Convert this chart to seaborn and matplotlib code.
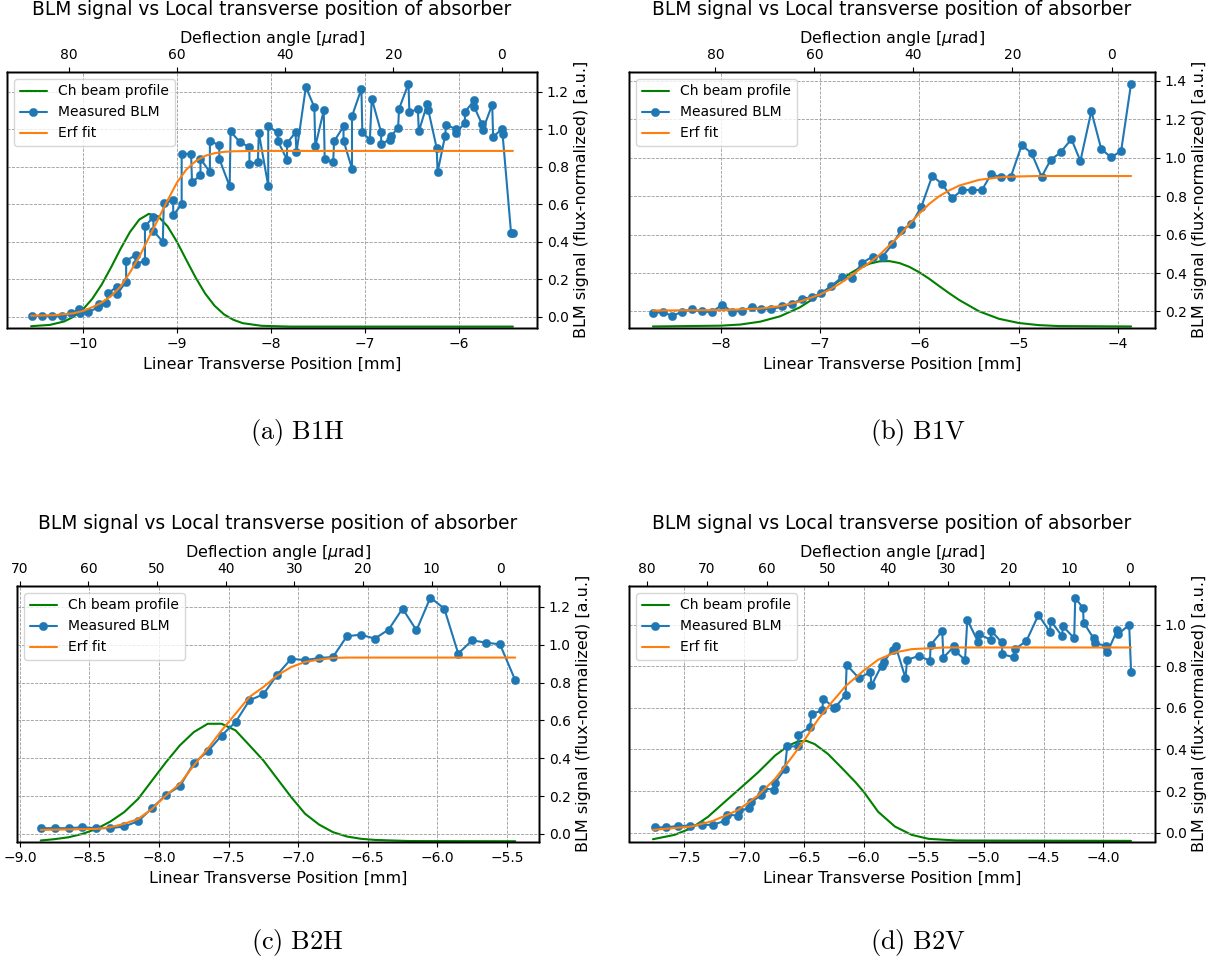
import matplotlib
matplotlib.use("Agg")
import matplotlib.pyplot as plt
from matplotlib.ticker import MultipleLocator
import seaborn as sns

# ---------------- B1H ----------------
b1h_pos = [-10.54, -10.43, -10.33, -10.22, -10.13, -10.04, -10.03, -9.94, -9.84, -9.83,
           -9.75, -9.73, -9.64, -9.64, -9.54, -9.54, -9.44, -9.44, -9.34, -9.34,
           -9.25, -9.25, -9.15, -9.14, -9.04, -9.04, -8.95, -8.95, -8.85, -8.84,
           -8.75, -8.75, -8.65, -8.65, -8.55, -8.55, -8.44, -8.43, -8.33, -8.23,
           -8.23, -8.14, -8.13, -8.03, -8.03, -7.93, -7.93, -7.83, -7.83, -7.74,
           -7.73, -7.63, -7.54, -7.53, -7.44, -7.43, -7.34, -7.33, -7.23, -7.23,
           -7.14, -7.14, -7.04, -7.03, -6.95, -6.93, -6.83, -6.83, -6.74, -6.73,
           -6.65, -6.64, -6.54, -6.53, -6.44, -6.43, -6.34, -6.33, -6.24, -6.23,
           -6.15, -6.14, -6.04, -6.04, -5.94, -5.94, -5.84, -5.84, -5.76, -5.75,
           -5.65, -5.64, -5.55, -5.54, -5.45, -5.43]
b1h_blm = [0.004, 0.004, 0.004, 0.004, 0.018, 0.039, 0.020, 0.023, 0.050, 0.067,
           0.074, 0.124, 0.160, 0.119, 0.186, 0.298, 0.328, 0.280, 0.298, 0.482,
           0.532, 0.457, 0.399, 0.606, 0.620, 0.541, 0.599, 0.868, 0.868, 0.718,
           0.753, 0.842, 0.771, 0.939, 0.913, 0.842, 0.695, 0.988, 0.930, 0.905,
           0.816, 0.823, 0.980, 0.698, 1.015, 0.983, 0.939, 0.837, 0.926, 0.983,
           0.876, 1.225, 1.117, 0.908, 1.100, 0.841, 0.823, 0.935, 1.015, 0.939,
           0.789, 1.069, 1.215, 0.983, 0.944, 1.163, 0.983, 0.921, 0.944, 0.962,
           1.006, 1.108, 1.243, 1.090, 1.108, 0.988, 1.136, 1.104, 0.899, 0.771,
           0.966, 1.024, 1.001, 0.978, 1.033, 1.092, 1.154, 1.118, 1.028, 0.996,
           1.131, 0.957, 1.001, 0.975, 0.448, 0.448]
b1h_fit_pos = [-10.55, -10.3, -10.1, -10.0, -9.9, -9.8, -9.7, -9.6, -9.5, -9.4, -9.3,
               -9.2, -9.1, -9.0, -8.9, -8.8, -8.7, -8.6, -8.5, -8.4, -8.2, -8.0, -5.43]
b1h_fit = [0.005, 0.008, 0.018, 0.030, 0.050, 0.075, 0.110, 0.160, 0.235, 0.320, 0.420,
           0.520, 0.620, 0.715, 0.785, 0.830, 0.858, 0.872, 0.879, 0.882, 0.884, 0.884, 0.884]
b1h_prof_pos = [-10.55, -10.35, -10.2, -10.1, -10.0, -9.9, -9.8, -9.7, -9.6, -9.5, -9.4,
                -9.3, -9.2, -9.1, -9.0, -8.9, -8.8, -8.7, -8.6, -8.5, -8.4, -8.3, -8.1,
                -7.8, -5.43]
b1h_prof = [-0.051, -0.044, -0.026, -0.001, 0.038, 0.095, 0.171, 0.263, 0.361, 0.451, 0.518,
            0.548, 0.535, 0.482, 0.399, 0.302, 0.207, 0.123, 0.058, 0.012, -0.017, -0.035,
            -0.049, -0.053, -0.053]
b1h_angle = [-5.55, 17.39]   # angle = (p0 - pos) * k

# ---------------- B1V ----------------
b1v_pos = [-8.68, -8.58, -8.49, -8.39, -8.29, -8.19, -8.09, -7.98, -7.88, -7.78,
           -7.68, -7.59, -7.49, -7.38, -7.28, -7.18, -7.08, -6.99, -6.89, -6.78,
           -6.68, -6.58, -6.47, -6.37, -6.27, -6.18, -6.08, -5.98, -5.87, -5.77,
           -5.67, -5.57, -5.47, -5.37, -5.28, -5.18, -5.08, -4.97, -4.87, -4.77,
           -4.68, -4.58, -4.47, -4.38, -4.27, -4.17, -4.07, -3.97, -3.87]
b1v_blm = [0.191, 0.197, 0.177, 0.197, 0.212, 0.200, 0.197, 0.235, 0.197, 0.205,
           0.223, 0.212, 0.212, 0.226, 0.240, 0.266, 0.274, 0.295, 0.330, 0.378,
           0.373, 0.451, 0.486, 0.486, 0.550, 0.624, 0.655, 0.745, 0.906, 0.863,
           0.789, 0.832, 0.832, 0.832, 0.913, 0.901, 0.901, 1.066, 1.023, 0.901,
           0.988, 1.028, 1.097, 0.983, 1.242, 1.045, 1.002, 1.036, 1.386]
b1v_fit_pos = [-8.68, -8.0, -7.6, -7.4, -7.2, -7.0, -6.9, -6.8, -6.7, -6.6, -6.5, -6.4,
               -6.3, -6.2, -6.1, -6.0, -5.9, -5.8, -5.7, -5.6, -5.4, -5.2, -5.0, -4.8, -3.87]
b1v_fit = [0.205, 0.207, 0.215, 0.228, 0.252, 0.288, 0.314, 0.345, 0.380, 0.420, 0.455, 0.495,
           0.545, 0.595, 0.655, 0.710, 0.760, 0.800, 0.830, 0.855, 0.885, 0.898, 0.903, 0.905, 0.905]
b1v_prof_pos = [-8.68, -8.0, -7.8, -7.6, -7.4, -7.2, -7.0, -6.9, -6.8, -6.7, -6.6, -6.5,
                -6.4, -6.3, -6.2, -6.1, -6.0, -5.9, -5.8, -5.7, -5.6, -5.4, -5.2, -5.0,
                -4.8, -4.6, -3.87]
b1v_prof = [0.122, 0.126, 0.132, 0.147, 0.175, 0.222, 0.288, 0.325, 0.362, 0.397, 0.427, 0.449,
            0.461, 0.462, 0.452, 0.432, 0.404, 0.370, 0.332, 0.295, 0.260, 0.201, 0.162, 0.140,
            0.129, 0.124, 0.122]
b1v_angle = [-4.067, 20.08]

# ---------------- B2H ----------------
b2h_pos = [-8.85, -8.75, -8.65, -8.55, -8.45, -8.35, -8.25, -8.15, -8.05, -7.95,
           -7.85, -7.75, -7.65, -7.55, -7.45, -7.35, -7.25, -7.15, -7.05, -6.95,
           -6.85, -6.75, -6.65, -6.55, -6.45, -6.35, -6.25, -6.15, -6.05, -5.95,
           -5.85, -5.75, -5.65, -5.55, -5.44]
b2h_blm = [0.030, 0.030, 0.030, 0.035, 0.030, 0.030, 0.039, 0.067, 0.136, 0.206,
           0.252, 0.374, 0.436, 0.520, 0.591, 0.706, 0.738, 0.842, 0.926, 0.918,
           0.930, 0.935, 1.045, 1.053, 1.032, 1.080, 1.191, 1.076, 1.249, 1.191,
           0.953, 1.023, 1.011, 1.002, 0.812]
b2h_fit_pos = [-8.85, -8.45, -8.35, -8.25, -8.15, -8.05, -7.95, -7.85, -7.75, -7.65, -7.55,
               -7.45, -7.35, -7.25, -7.15, -7.05, -6.95, -6.85, -6.75, -6.65, -5.44]
b2h_fit = [0.021, 0.026, 0.035, 0.053, 0.079, 0.132, 0.203, 0.265, 0.362, 0.450, 0.547,
           0.635, 0.724, 0.776, 0.838, 0.882, 0.909, 0.921, 0.930, 0.932, 0.932]
b2h_prof_pos = [-8.85, -8.75, -8.65, -8.55, -8.45, -8.35, -8.25, -8.15, -8.05, -7.95, -7.85,
                -7.75, -7.65, -7.55, -7.45, -7.35, -7.25, -7.15, -7.05, -6.95, -6.85, -6.75,
                -6.65, -6.55, -6.45, -6.2, -5.44]
b2h_prof = [-0.035, -0.028, -0.018, 0.000, 0.026, 0.065, 0.115, 0.185, 0.282, 0.379, 0.468,
            0.538, 0.582, 0.582, 0.547, 0.468, 0.388, 0.291, 0.194, 0.106, 0.049, 0.009,
            -0.014, -0.026, -0.032, -0.038, -0.039]
b2h_angle = [-5.547, 20.27]

# ---------------- B2V ----------------
b2v_pos = [-7.745, -7.648, -7.55, -7.447, -7.35, -7.258, -7.16, -7.141, -7.049, -7.04,
           -6.957, -6.943, -6.859, -6.84, -6.75, -6.742, -6.659, -6.639, -6.547, -6.547,
           -6.45, -6.436, -6.347, -6.338, -6.247, -6.235, -6.152, -6.143, -6.042, -5.944,
           -5.936, -5.852, -5.833, -5.757, -5.735, -5.652, -5.638, -5.54, -5.448, -5.442,
           -5.345, -5.336, -5.247, -5.239, -5.155, -5.136, -5.047, -5.038, -4.941, -4.935,
           -4.849, -4.843, -4.745, -4.737, -4.642, -4.542, -4.447, -4.439, -4.347, -4.336,
           -4.244, -4.235, -4.17, -4.165, -4.082, -4.072, -3.98, -3.968, -3.885, -3.877,
           -3.785, -3.769]
b2v_blm = [0.025, 0.025, 0.032, 0.033, 0.037, 0.037, 0.057, 0.087, 0.081, 0.107,
           0.116, 0.145, 0.180, 0.212, 0.207, 0.240, 0.304, 0.415, 0.415, 0.472,
           0.506, 0.571, 0.588, 0.644, 0.601, 0.606, 0.662, 0.808, 0.744, 0.772,
           0.708, 0.804, 0.823, 0.880, 0.899, 0.744, 0.831, 0.851, 0.827, 0.903,
           0.971, 0.842, 0.896, 0.875, 0.831, 1.024, 0.919, 0.955, 0.928, 0.971,
           0.915, 0.859, 0.843, 0.883, 0.923, 1.048, 0.966, 1.019, 0.947, 0.992,
           0.936, 1.131, 1.080, 1.011, 0.935, 0.911, 0.900, 0.867, 0.974, 0.955,
           1.000, 0.775]
b2v_fit_pos = [-7.76, -7.44, -7.26, -7.05, -6.88, -6.74, -6.6, -6.49, -6.38, -6.27, -6.15,
               -6.0, -5.88, -5.74, -5.6, -5.32, -3.77]
b2v_fit = [0.013, 0.029, 0.056, 0.108, 0.180, 0.259, 0.363, 0.450, 0.546, 0.625, 0.706,
           0.780, 0.832, 0.867, 0.883, 0.891, 0.891]
b2v_prof_pos = [-7.76, -7.58, -7.44, -7.3, -7.16, -7.02, -6.88, -6.74, -6.63, -6.55, -6.48,
                -6.41, -6.3, -6.19, -6.07, -6.0, -5.88, -5.74, -5.6, -5.46, -5.23, -3.77]
b2v_prof = [-0.032, -0.011, 0.021, 0.076, 0.148, 0.219, 0.291, 0.371, 0.418, 0.439, 0.442,
            0.426, 0.379, 0.315, 0.243, 0.196, 0.100, 0.029, -0.011, -0.030, -0.038, -0.040]
b2v_angle = [-3.785, 19.86]

TITLE = "BLM signal vs Local transverse position of absorber"
GREEN, BLUE, ORANGE = "#008000", "#1f77b4", "#ff7f0e"

sns.set_theme(style="ticks", rc={
    "font.size": 11.5, "axes.labelsize": 11.5, "axes.titlesize": 13.4,
    "xtick.labelsize": 10, "ytick.labelsize": 10, "legend.fontsize": 10,
    "axes.edgecolor": "black", "axes.labelcolor": "black", "text.color": "black",
    "xtick.color": "black", "ytick.color": "black", "axes.linewidth": 1.0,
    "xtick.major.size": 3.5, "ytick.major.size": 3.5,
    "xtick.major.width": 0.8, "ytick.major.width": 0.8,
    "xtick.major.pad": 3.5, "ytick.major.pad": 3.5,
})
plt.rcParams["font.family"] = ["DejaVu Sans"]

W, H = 1227, 966
fig = plt.figure(figsize=(W / 100, H / 100), dpi=100)

panels = [
    (b1h_pos, b1h_blm, b1h_fit_pos, b1h_fit, b1h_prof_pos, b1h_prof, b1h_angle, 20,
     (7, 537, 72, 327.5), "(a) B1H", (297, 433)),
    (b1v_pos, b1v_blm, b1v_fit_pos, b1v_fit, b1v_prof_pos, b1v_prof, b1v_angle, 20,
     (629, 1155, 72, 327.5), "(b) B1V", (918, 433)),
    (b2h_pos, b2h_blm, b2h_fit_pos, b2h_fit, b2h_prof_pos, b2h_prof, b2h_angle, 10,
     (17, 539, 586, 841.5), "(c) B2H", (297, 943)),
    (b2v_pos, b2v_blm, b2v_fit_pos, b2v_fit, b2v_prof_pos, b2v_prof, b2v_angle, 10,
     (629, 1155, 586, 841.5), "(d) B2V", (918, 943)),
]

for (pos, blm, fpos, fit, ppos, prof, angle, step, box, caption, cxy) in panels:
    l, r, t, b = box
    ax = fig.add_axes([l / W, 1 - b / H, (r - l) / W, (b - t) / H])
    ax2 = ax.twinx()

    # beam profile on the primary (unlabelled) axis
    sns.lineplot(x=ppos, y=prof, ax=ax, color=GREEN, linewidth=1.5, sort=False,
                 estimator=None, errorbar=None, legend=False, label="Ch beam profile")
    # BLM signal and fit on the right axis
    sns.lineplot(x=pos, y=blm, ax=ax2, color=BLUE, linewidth=1.5, marker="o",
                 markersize=6, markeredgecolor=BLUE, markeredgewidth=0.3, sort=False,
                 estimator=None, errorbar=None, legend=False, label="Measured BLM")
    sns.lineplot(x=fpos, y=fit, ax=ax2, color=ORANGE, linewidth=1.5, sort=False,
                 estimator=None, errorbar=None, legend=False, label="Erf fit")

    ax.set_ylim(ax2.get_ylim())
    ax.set_yticks([])
    ax.set_ylabel("")
    ax.set_xlabel("Linear Transverse Position [mm]")
    ax2.set_ylabel("BLM signal (flux-normalized) [a.u.]")
    ax.grid(True, axis="x", linestyle="--", linewidth=0.6, color="#9a9a9a")
    ax2.grid(True, axis="y", linestyle="--", linewidth=0.6, color="#9a9a9a")

    # deflection angle axis on top
    ax3 = ax.twiny()
    x0, x1 = ax.get_xlim()
    p0, k = angle
    ax3.set_xlim((p0 - x0) * k, (p0 - x1) * k)
    ax3.xaxis.set_major_locator(MultipleLocator(step))
    ax3.set_xlabel("Deflection angle [$\\mu$rad]")
    ax3.grid(False)

    ax.set_title(TITLE, pad=10)

    h1, l1 = ax.get_legend_handles_labels()
    h2, l2 = ax2.get_legend_handles_labels()
    ax3.legend(h1 + h2, l1 + l2, loc="upper left")

    fig.text(cxy[0] / W, 1 - cxy[1] / H, "$\\mathrm{" + caption.replace(" ", "\\ ") + "}$",
             ha="center", va="center", fontsize=19, math_fontfamily="cm")

fig.savefig("out.png", dpi=100, facecolor="white")
